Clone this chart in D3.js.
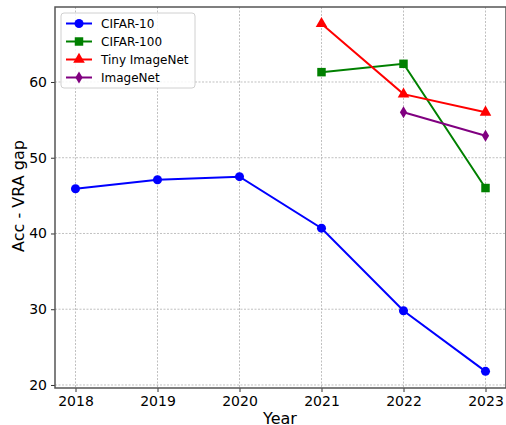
<!DOCTYPE html>
<html><head><meta charset="utf-8">
<script src="https://cdn.jsdelivr.net/npm/d3@7"></script>
<style>body{margin:0;background:#fff}svg{display:block;font-family:"DejaVu Sans",sans-serif}</style>
</head><body>
<svg id="c" width="506" height="425"></svg>
<script>
const years = [2018, 2019, 2020, 2021, 2022, 2023];
const cifar10 = [[2018,45.9],[2019,47.1],[2020,47.5],[2021,40.7],[2022,29.8],[2023,21.8]];
const cifar100 = [[2021,61.3],[2022,62.4],[2023,46.0]];
const tinyImageNet = [[2021,67.7],[2022,58.4],[2023,56.0]];
const imageNet = [[2022,56.0],[2023,52.9]];
const yTicks = [20, 30, 40, 50, 60];
const seriesNames = ["CIFAR-10","CIFAR-100","Tiny ImageNet","ImageNet"];

const series = [
  {name: seriesNames[0], data: cifar10, color: "#0000ff", sym: d3.symbolCircle, size: 64},
  {name: seriesNames[1], data: cifar100, color: "#008000", sym: d3.symbolSquare, size: 72},
  {name: seriesNames[2], data: tinyImageNet, color: "#ff0000", sym: d3.symbolTriangle, size: 58},
  {name: seriesNames[3], data: imageNet, color: "#800080", sym: "diamond", size: 60}
];

const L = 55, R = 506, T = 7, B = 388;
const x = d3.scaleLinear().domain([2017.75, 2023.25]).range([L, R]);
const y = d3.scaleLinear().domain([19.6, 69.9]).range([B, T]);
const svg = d3.select("#c");

// grid
const g = svg.append("g");
g.selectAll(".vg").data(years).enter().append("line")
  .attr("x1", d => x(d)).attr("x2", d => x(d)).attr("y1", T).attr("y2", B)
  .attr("stroke", "#b0b0b0").attr("stroke-width", 0.8).attr("stroke-dasharray", "2,1.5");
g.selectAll(".hg").data(yTicks).enter().append("line")
  .attr("x1", L).attr("x2", R).attr("y1", d => y(d)).attr("y2", d => y(d))
  .attr("stroke", "#b0b0b0").attr("stroke-width", 0.8).attr("stroke-dasharray", "2,1.5");

// axes
const xa = svg.append("g").attr("transform", `translate(0,${B})`)
  .call(d3.axisBottom(x).tickValues(years).tickFormat(d3.format("d")).tickSize(4).tickPadding(4));
const ya = svg.append("g").attr("transform", `translate(${L},0)`)
  .call(d3.axisLeft(y).tickValues(yTicks).tickSize(4).tickPadding(4));
[xa, ya].forEach(a => {
  a.select(".domain").remove();
  a.selectAll("text").attr("font-size", 14).attr("fill", "#000").attr("font-family", "DejaVu Sans");
  a.selectAll("line").attr("stroke", "#333");
});

// spines
svg.append("rect").attr("x", L).attr("y", T).attr("width", R - L).attr("height", B - T)
  .attr("fill", "none").attr("stroke", "#555").attr("stroke-width", 1.5);

function symPath(s, size) {
  if (s === "diamond") {
    const r = Math.sqrt(size) * 0.62;
    return `M0,${-r*1.25}L${r*0.75},0L0,${r*1.25}L${-r*0.75},0Z`;
  }
  return d3.symbol().type(s).size(size)();
}

const line = d3.line().x(d => x(d[0])).y(d => y(d[1]));
series.forEach(s => {
  svg.append("path").datum(s.data).attr("d", line)
    .attr("fill", "none").attr("stroke", s.color).attr("stroke-width", 2);
  svg.selectAll(null).data(s.data).enter().append("path")
    .attr("d", symPath(s.sym, s.size))
    .attr("transform", d => `translate(${x(d[0])},${y(d[1])})`)
    .attr("fill", s.color);
});

// legend
const lg = svg.append("g");
lg.append("rect").attr("x", 61).attr("y", 13).attr("width", 134).attr("height", 75).attr("rx", 3)
  .attr("fill", "#fff").attr("fill-opacity", 0.85).attr("stroke", "#d0d0d0").attr("stroke-width", 1);
series.forEach((s, i) => {
  const cy = 23.5 + i * 18;
  lg.append("line").attr("x1", 66).attr("x2", 92).attr("y1", cy).attr("y2", cy)
    .attr("stroke", s.color).attr("stroke-width", 2);
  lg.append("path").attr("d", symPath(s.sym, s.size)).attr("transform", `translate(79,${cy})`).attr("fill", s.color);
  lg.append("text").attr("x", 101).attr("y", cy + 4.3).attr("font-size", 12).text(s.name);
});

// labels
svg.append("text").attr("x", 280).attr("y", 424).attr("text-anchor", "middle").attr("font-size", 16).text("Year");
svg.append("text").attr("transform", "translate(24,196) rotate(-90)").attr("text-anchor", "middle").attr("font-size", 16).text("Acc - VRA gap");
</script>
</body></html>
